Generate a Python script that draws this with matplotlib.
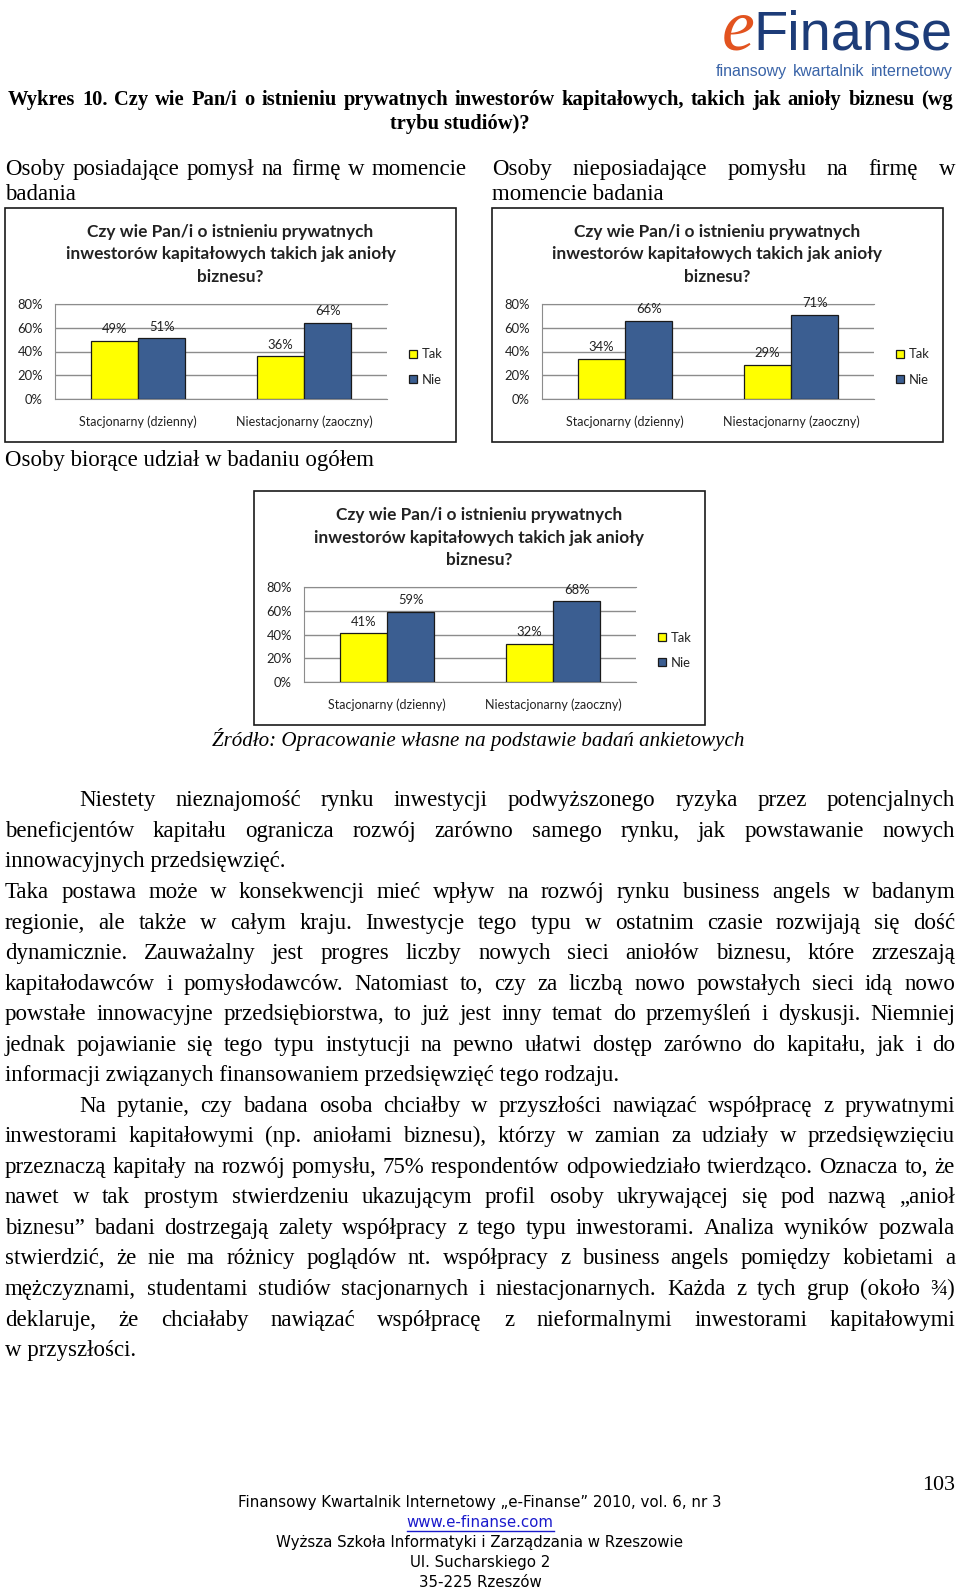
import matplotlib
matplotlib.use('Agg')
import matplotlib.pyplot as plt
import numpy as np
from matplotlib.patches import Rectangle

W, H = 960, 1593
PX = 0.72  # pixel -> point at dpi 100

series = ['Tak', 'Nie']
colors = ['#FFFF00', '#3B5E91']
modes = ['Stacjonarny (dzienny)', 'Niestacjonarny (zaoczny)']
yticks = [0, 20, 40, 60, 80]

# Tak / Nie per tryb studiów
tak_pomysl = [49, 36]
nie_pomysl = [51, 64]
tak_bez = [34, 29]
nie_bez = [66, 71]
tak_ogol = [41, 32]
nie_ogol = [59, 68]

chart_title = ['Czy wie Pan/i o istnieniu prywatnych',
               'inwestorów kapitałowych takich jak anioły',
               'biznesu?']

title = ['Wykres 10. Czy wie Pan/i o istnieniu prywatnych inwestorów kapitałowych, takich jak anioły biznesu (wg',
         'trybu studiów)?']

body = [
    ('Niestety nieznajomość rynku inwestycji podwyższonego ryzyka przez potencjalnych', 79, True),
    ('beneficjentów kapitału ogranicza rozwój zarówno samego rynku, jak powstawanie nowych', 5, True),
    ('innowacyjnych przedsięwzięć.', 5, False),
    ('Taka postawa może w konsekwencji mieć wpływ na rozwój rynku business angels w badanym', 5, True),
    ('regionie, ale także w całym kraju. Inwestycje tego typu w ostatnim czasie rozwijają się dość', 5, True),
    ('dynamicznie. Zauważalny jest progres liczby nowych sieci aniołów biznesu, które zrzeszają', 5, True),
    ('kapitałodawców i pomysłodawców. Natomiast to, czy za liczbą nowo powstałych sieci idą nowo', 5, True),
    ('powstałe innowacyjne przedsiębiorstwa, to już jest inny temat do przemyśleń i dyskusji. Niemniej', 5, True),
    ('jednak pojawianie się tego typu instytucji na pewno ułatwi dostęp zarówno do kapitału, jak i do', 5, True),
    ('informacji związanych finansowaniem przedsięwzięć tego rodzaju.', 5, False),
    ('Na pytanie, czy badana osoba chciałby w przyszłości nawiązać współpracę z prywatnymi', 79, True),
    ('inwestorami kapitałowymi (np. aniołami biznesu), którzy w zamian za udziały w przedsięwzięciu', 5, True),
    ('przeznaczą kapitały na rozwój pomysłu, 75% respondentów odpowiedziało twierdząco. Oznacza to, że', 5, True),
    ('nawet w tak prostym stwierdzeniu ukazującym profil osoby ukrywającej się pod nazwą „anioł', 5, True),
    ('biznesu” badani dostrzegają zalety współpracy z tego typu inwestorami. Analiza wyników pozwala', 5, True),
    ('stwierdzić, że nie ma różnicy poglądów nt. współpracy z business angels pomiędzy kobietami a', 5, True),
    ('mężczyznami, studentami studiów stacjonarnych i niestacjonarnych. Każda z tych grup (około ¾)', 5, True),
    ('deklaruje, że chciałaby nawiązać współpracę z nieformalnymi inwestorami kapitałowymi', 5, True),
    ('w przyszłości.', 5, False),
]

footer = ['Finansowy Kwartalnik Internetowy „e-Finanse” 2010, vol. 6, nr 3',
          'www.e-finanse.com',
          'Wyższa Szkoła Informatyki i Zarządzania w Rzeszowie',
          'Ul. Sucharskiego 2',
          '35-225 Rzeszów']

SERIF = ['Liberation Serif', 'DejaVu Serif']
CF = ['Lato', 'DejaVu Sans']
SANS = ['Liberation Sans', 'DejaVu Sans']
TXT = '#222222'
BPX = 22.9
BODY = BPX * PX

fig = plt.figure(figsize=(W / 100, H / 100), dpi=100)
page = fig.add_axes([0, 0, 1, 1])
page.set_xlim(0, W)
page.set_ylim(H, 0)
page.axis('off')
rend = fig.canvas.get_renderer()


def justify(line, y, x0, x1, **kw):
    # y is the baseline
    words = line.split()
    arts = [page.text(0, y, w, va='baseline', ha='left', **kw) for w in words]
    widths = [a.get_window_extent(rend).width for a in arts]
    gap = (x1 - x0 - sum(widths)) / max(len(words) - 1, 1)
    x = x0
    for a, w in zip(arts, widths):
        a.set_x(x)
        x += w + gap


def left(x, y, s, **kw):
    return page.text(x, y, s, va='baseline', ha='left', **kw)


# logo
fin = page.text(953, 50, 'Finanse', fontsize=56 * PX, family=SANS, color='#1D3C78',
                ha='right', va='baseline')
fl = fin.get_window_extent(rend).x0
page.text(fl + 1, 50, 'e', fontsize=74 * PX, family=SERIF, style='italic', color='#E2531F',
          ha='right', va='baseline')
justify('finansowy kwartalnik internetowy', 76, 716, 953, fontsize=16 * PX, family=SANS,
        color='#3A64A8')

# title
justify(title[0], 105, 8, 953, fontsize=20.5 * PX, family=SERIF, weight='bold')
page.text(460, 128.5, title[1], fontsize=20.5 * PX, family=SERIF, weight='bold', ha='center',
          va='baseline')

# section headers
off = 0.3 * BPX
justify('Osoby posiadające pomysł na firmę w momencie', 168 + off, 5, 467, fontsize=BODY, family=SERIF)
left(5, 193 + off, 'badania', fontsize=BODY, family=SERIF)
justify('Osoby nieposiadające pomysłu na firmę w', 168 + off, 492, 955, fontsize=BODY, family=SERIF)
left(492, 193 + off, 'momencie badania', fontsize=BODY, family=SERIF)
left(5, 459 + off, 'Osoby biorące udział w badaniu ogółem', fontsize=BODY, family=SERIF)


def chart(bx, by, tak, nie):
    page.add_patch(Rectangle((bx, by), 451, 234, fill=False, ec='#1a1a1a', lw=1.2))
    for i, t in enumerate(chart_title):
        page.text(bx + 225.5, by + 24 + i * 22.5, t, fontsize=17.3 * PX, family=CF, weight='bold',
                  color=TXT, ha='center', va='center')
    ax = fig.add_axes([(bx + 50) / W, 1 - (by + 191) / H, 332 / W, 95 / H])
    x = np.arange(len(modes))
    w = 0.286
    for k, (vals, c) in enumerate(zip([tak, nie], colors)):
        b = ax.bar(x + (k - 0.5) * w, vals, w, color=c, edgecolor='#1a1a1a', lw=0.9, zorder=3)
        ax.bar_label(b, labels=[f'{v}%' for v in vals], padding=4, fontsize=13 * PX,
                     family=CF, color=TXT)
    ax.set_xlim(-0.5, 1.5)
    ax.set_ylim(0, 80)
    ax.set_yticks(yticks, [f'{t}%' for t in yticks])
    ax.set_xticks(x, modes)
    ax.yaxis.grid(True, color='#8c8c8c', lw=1)
    ax.set_axisbelow(True)
    ax.spines['right'].set_visible(False)
    for s in ['left', 'bottom', 'top']:
        ax.spines[s].set_color('#8c8c8c')
    ax.tick_params(axis='y', length=0, pad=12 * PX, labelsize=13 * PX, labelcolor=TXT)
    ax.tick_params(axis='x', length=0, pad=16 * PX, labelsize=12.5 * PX, labelcolor=TXT)
    for lab in ax.get_xticklabels() + ax.get_yticklabels():
        lab.set_family(CF)
    ax.patch.set_alpha(0)
    handles = [Rectangle((0, 0), 1, 1, fc=c, ec='#1a1a1a', lw=0.9) for c in colors]
    ax.legend(handles, series, loc='center left',
              bbox_to_anchor=((bx + 404) / W, 1 - (by + 159) / H), bbox_transform=fig.transFigure,
              frameon=False, prop={'family': CF, 'size': 13 * PX}, handlelength=0.6,
              handleheight=0.6, handletextpad=0.35, labelspacing=1.0, borderpad=0,
              borderaxespad=0, labelcolor=TXT)


chart(5, 208, tak_pomysl, nie_pomysl)
chart(492, 208, tak_bez, nie_bez)
chart(254, 491, tak_ogol, nie_ogol)

page.text(478, 740 + 0.3 * 21, 'Źródło: Opracowanie własne na podstawie badań ankietowych',
          fontsize=21 * PX, family=SERIF, style='italic', ha='center', va='baseline')

# body text
for i, (line, x0, just) in enumerate(body):
    y = 799.5 + i * 30.54 + off
    if just:
        justify(line, y, x0, 955, fontsize=BODY, family=SERIF)
    else:
        left(x0, y, line, fontsize=BODY, family=SERIF)

# footer
page.text(955, 1485, '103', fontsize=22 * PX, family=SERIF, ha='right', va='center')
for i, line in enumerate(footer):
    y = 1502 + i * 20.2
    col = '#1a1acc' if i == 1 else 'black'
    t = page.text(480, y, line, fontsize=15 * PX, family=['DejaVu Sans'], color=col,
                  ha='center', va='center')
    if i == 1:
        e = t.get_window_extent(rend)
        page.plot([e.x0, e.x1], [y + 8.5, y + 8.5], color=col, lw=1)

fig.savefig('out.png', dpi=100)
